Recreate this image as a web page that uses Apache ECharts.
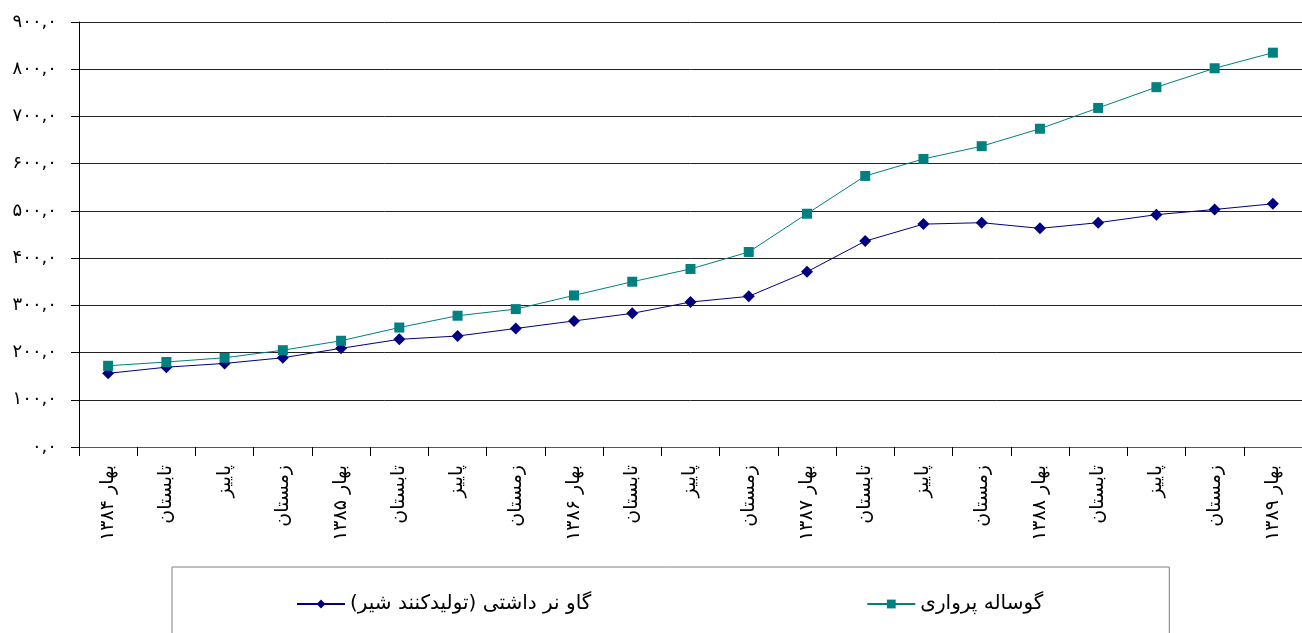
<!DOCTYPE html>
<html>
<head>
<meta charset="utf-8">
<title>chart</title>
<script src="https://cdn.jsdelivr.net/npm/echarts@6/dist/echarts.min.js"></script>
<style>
  html, body { margin: 0; padding: 0; background: #fff; }
  #main { width: 1302px; height: 633px; }
</style>
</head>
<body>
<div id="main"></div>
<script>
// فصل ها
var categories = ['بهار ۱۳۸۴', 'تابستان', 'پاییز', 'زمستان',
  'بهار ۱۳۸۵', 'تابستان', 'پاییز', 'زمستان',
  'بهار ۱۳۸۶', 'تابستان', 'پاییز', 'زمستان',
  'بهار ۱۳۸۷', 'تابستان', 'پاییز', 'زمستان',
  'بهار ۱۳۸۸', 'تابستان', 'پاییز', 'زمستان',
  'بهار ۱۳۸۹'];

var seriesNames = ['گاو نر داشتی (تولیدکنند شیر)', 'گوساله پرواری'];

var gavData = [156, 169, 177, 189, 209, 228, 235, 251, 267, 283, 307, 319,
  371, 436, 472, 475, 463, 475, 492, 503, 515];
var gusalehData = [172, 180, 189, 205, 225, 253, 278, 292, 321, 350, 377, 413,
  494, 574, 610, 637, 674, 718, 762, 802, 835];

var yMin = 0, yMax = 900, yStep = 100;

var faDigits = '۰۱۲۳۴۵۶۷۸۹';
function toFa(n) {
  return String(n).replace(/[0-9]/g, function (d) { return faDigits[+d]; });
}

var chart = echarts.init(document.getElementById('main'));
var font = 'DejaVu Sans';

chart.setOption({
  animation: false,
  backgroundColor: '#fff',
  grid: {
    left: 79,
    right: -10,
    top: 22,
    bottom: 186
  },
  legend: {
    left: 172,
    top: 567,
    padding: [27, 126, 30, 124],
    itemGap: 275,
    itemWidth: 48,
    itemHeight: 11,
    borderColor: '#808080',
    borderWidth: 1,
    textStyle: { fontFamily: font, fontSize: 20, color: '#000' },
    data: seriesNames
  },
  xAxis: {
    type: 'category',
    boundaryGap: true,
    data: categories,
    axisLine: { lineStyle: { color: '#555', width: 1 } },
    axisTick: { show: true, length: 9, lineStyle: { color: '#000' } },
    axisLabel: {
      rotate: 90,
      interval: 0,
      margin: 18,
      fontFamily: font,
      fontSize: 19,
      color: '#000'
    }
  },
  yAxis: {
    type: 'value',
    min: yMin,
    max: yMax,
    interval: yStep,
    axisLine: { show: true, lineStyle: { color: '#000', width: 1 } },
    axisTick: { show: true, length: 8, lineStyle: { color: '#000' } },
    splitLine: { show: true, lineStyle: { color: '#222', width: 1 } },
    axisLabel: {
      margin: 22,
      fontFamily: font,
      fontSize: 18,
      color: '#000',
      formatter: function (v) { return toFa(v) + ',' + toFa(0); }
    }
  },
  series: [
    {
      name: seriesNames[0],
      type: 'line',
      data: gavData,
      symbol: 'diamond',
      symbolSize: 12,
      lineStyle: { color: '#000080', width: 1 },
      itemStyle: { color: '#000080' }
    },
    {
      name: seriesNames[1],
      type: 'line',
      data: gusalehData,
      symbol: 'rect',
      symbolSize: 10,
      lineStyle: { color: '#008080', width: 1 },
      itemStyle: { color: '#008080' }
    }
  ]
});
</script>
</body>
</html>
